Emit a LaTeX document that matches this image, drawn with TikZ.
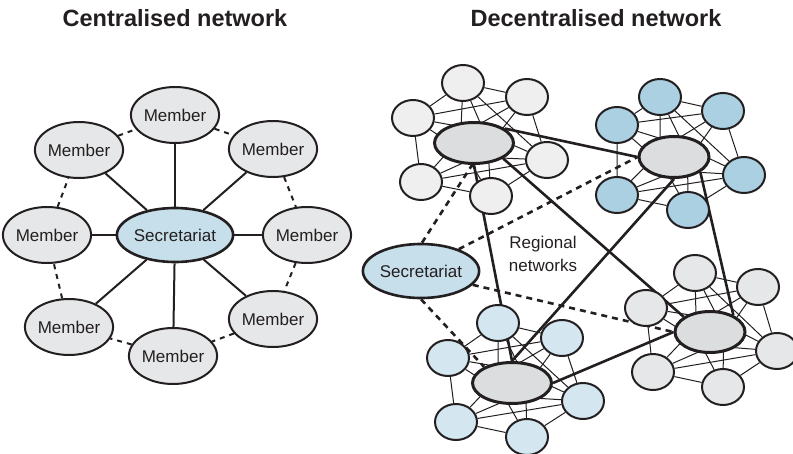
\documentclass[tikz,border=0pt]{standalone}
\usepackage{fontspec}
\setmainfont{Liberation Sans}
\usetikzlibrary{shapes.geometric,calc}
\pgfdeclarelayer{bg}
\pgfsetlayers{bg,main}
\definecolor{txt}{HTML}{231F20}
\definecolor{memfill}{HTML}{E6E7E8}
\definecolor{secfill}{HTML}{C6DFEA}
\definecolor{hubfill}{HTML}{DCDDDE}
\definecolor{satA}{HTML}{EFEFEF}
\definecolor{satB}{HTML}{ABD0E2}
\definecolor{satC}{HTML}{D4E7F1}
\definecolor{satD}{HTML}{E6E7E8}
\tikzset{
  member/.style={ellipse, draw=txt, line width=2pt, fill=memfill, minimum width=84pt, minimum height=56pt, inner sep=0pt, font=\fontsize{17}{20}\selectfont, text=txt},
  secr/.style={member, fill=secfill, line width=2.6pt, minimum width=106pt, minimum height=54pt},
  sat/.style={ellipse, draw=txt, line width=2pt, minimum width=42pt, minimum height=36pt, inner sep=0pt},
  hub/.style={ellipse, draw=txt, line width=3pt, fill=hubfill, minimum height=41pt, inner sep=0pt},
  spoke/.style={draw=txt, line width=2pt},
  ringline/.style={draw=txt, line width=2pt, dash pattern=on 5pt off 5pt},
  fanline/.style={draw=txt, line width=1pt},
  hublink/.style={draw=txt, line width=2.6pt},
  dlink/.style={draw=txt, line width=2.6pt, dash pattern=on 6pt off 5pt},
  titletext/.style={font=\fontsize{23.5}{27}\selectfont\bfseries, text=txt},
  plain/.style={font=\fontsize{17}{23}\selectfont, text=txt, align=center}
}
\newcommand{\mkcluster}[9]{%
  \node[hub, minimum width=\hubw] (#1h) at #3 {};
  \node[sat, fill=#2] (#1t) at #4 {};
  \node[sat, fill=#2] (#1tr) at #5 {};
  \node[sat, fill=#2] (#1l) at #6 {};
  \node[sat, fill=#2] (#1r) at #7 {};
  \node[sat, fill=#2] (#1ll) at #8 {};
  \node[sat, fill=#2] (#1b) at #9 {};
  \begin{pgfonlayer}{bg}
    \foreach \s in {t,tr,l,r,ll,b} {
      \draw[fanline] (#1\s) -- ($(#1h.center)!14pt!90:(#1\s)$);
      \draw[fanline] (#1\s) -- ($(#1h.center)!14pt!-90:(#1\s)$);
    }
    \draw[fanline] (#1t)--(#1tr) (#1tr)--(#1r) (#1r)--(#1b) (#1b)--(#1ll) (#1ll)--(#1l) (#1l)--(#1t);
    \draw[fanline] (#1l)--(#1tr) (#1t)--(#1r) (#1ll)--(#1r);
  \end{pgfonlayer}
}
\begin{document}
\begin{tikzpicture}[x=1pt, y=-1pt]
\useasboundingbox (0,0) rectangle (793,453);
% titles
\node[titletext] (t1) at (175,18) {Centralised network};
\node[titletext] (t2) at (596,18) {Decentralised network};
% centralised
\node[secr] (sec) at (175,235) {Secretariat};
\node[member] (m1) at (175,115) {Member};
\node[member] (m2) at (273,149) {Member};
\node[member] (m3) at (307,235) {Member};
\node[member] (m4) at (273,319) {Member};
\node[member] (m5) at (173,356) {Member};
\node[member] (m6) at (69,327) {Member};
\node[member] (m7) at (47,235) {Member};
\node[member] (m8) at (79,150) {Member};
\foreach \m in {m1,m2,m3,m4,m5,m6,m7,m8} \draw[spoke] (sec) -- (\m);
\draw[ringline] (m1)--(m2) (m2)--(m3) (m3)--(m4) (m4)--(m5) (m5)--(m6) (m6)--(m7) (m7)--(m8) (m8)--(m1);
% decentralised
\def\hubw{79pt}
\mkcluster{A}{satA}{(474,143)}{(463,83)}{(527,97)}{(413,118)}{(547,160)}{(421,182)}{(491,196)}
\def\hubw{70pt}
\mkcluster{B}{satB}{(674,157)}{(660,97)}{(723,111)}{(617,125)}{(744,175)}{(617,195)}{(688,210)}
\def\hubw{79pt}
\mkcluster{C}{satC}{(512,383)}{(498,323)}{(562,338)}{(448,358)}{(583,401)}{(456,422)}{(527,437)}
\def\hubw{70pt}
\mkcluster{D}{satD}{(710,332)}{(695,273)}{(758,287)}{(646,308)}{(777,351)}{(653,372)}{(723,387)}
\node[secr] (S2) at (421,271) {Secretariat};
\node[plain] (rn) at (543,254) {Regional\\networks};
\begin{pgfonlayer}{bg}
  \draw[hublink] (Ah.25) -- (Bh.west);
  \draw[hublink] (Ah.-28) -- (Dh.150);
  \draw[hublink] (Ah.south) -- (Ch.north);
  \draw[hublink] (Bh.south) -- (Ch.north);
  \draw[hublink] (Bh.-30) -- (Dh.36);
  \draw[hublink] (Ch.east) -- (Dh.west);
  \draw[dlink] (S2.88) -- (Ah.-95);
  \draw[dlink] (S2.30) -- (Bh.west);
  \draw[dlink] (S2.-15) -- (Dh.west);
  \draw[dlink] (S2.south) -- (Ch.150);
\end{pgfonlayer}
\end{tikzpicture}
\end{document}
